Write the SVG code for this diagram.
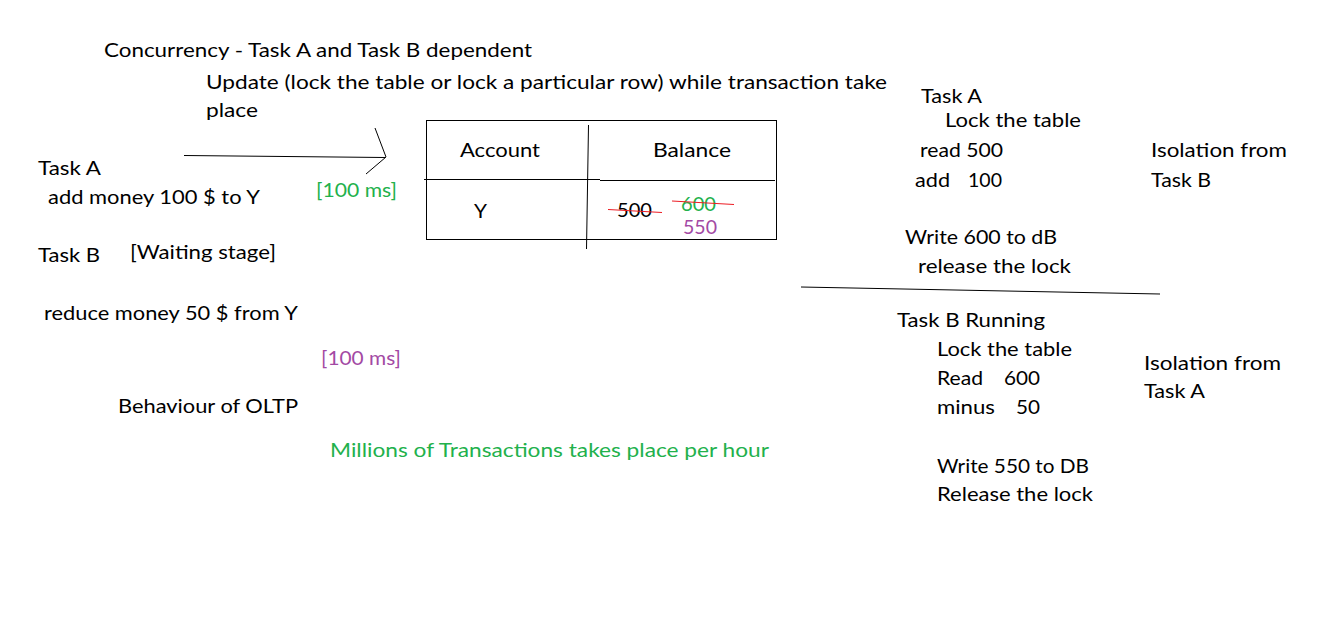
<svg xmlns="http://www.w3.org/2000/svg" width="1320" height="641" viewBox="0 0 1320 641">
<style>
text{font-family:Lato,"Open Sans","Liberation Sans",sans-serif;font-size:20px;fill:#000}
.g{fill:#22b14c}
.p{fill:#a349a4}
.ln{fill:none;stroke:#000;stroke-width:1}
.red{fill:none;stroke:#ed1c24;stroke-width:1}
</style>
<rect width="1320" height="641" fill="#fff"/>
<g id="title">
<text x="104" y="57" textLength="428" lengthAdjust="spacingAndGlyphs">Concurrency - Task A and Task B dependent</text>
<text x="206" y="89" textLength="681" lengthAdjust="spacingAndGlyphs">Update (lock the table or lock a particular row) while transaction take</text>
<text x="206" y="117" textLength="52" lengthAdjust="spacingAndGlyphs">place</text>
</g>
<g id="left-tasks">
<text x="38" y="175" textLength="63" lengthAdjust="spacingAndGlyphs">Task A</text>
<text x="48" y="204" textLength="212" lengthAdjust="spacingAndGlyphs">add money 100 $ to Y</text>
<text class="g" x="316" y="197" textLength="81" lengthAdjust="spacingAndGlyphs">[100 ms]</text>
<text x="38" y="262" textLength="62" lengthAdjust="spacingAndGlyphs">Task B</text>
<text x="130" y="259" textLength="146" lengthAdjust="spacingAndGlyphs">[Waiting stage]</text>
<text x="44" y="320" textLength="254" lengthAdjust="spacingAndGlyphs">reduce money 50 $ from Y</text>
<text class="p" x="321" y="365" textLength="80" lengthAdjust="spacingAndGlyphs">[100 ms]</text>
<text x="118" y="413" textLength="180" lengthAdjust="spacingAndGlyphs">Behaviour of OLTP</text>
<text class="g" x="330" y="457" textLength="439" lengthAdjust="spacingAndGlyphs">Millions of Transactions takes place per hour</text>
</g>
<g id="table">
<rect class="ln" x="426.5" y="120.5" width="350" height="118.5" shape-rendering="crispEdges"/>
<polyline class="ln" points="424,179.5 600,179.5" shape-rendering="crispEdges"/>
<polyline class="ln" points="600,180.5 775,180.5" shape-rendering="crispEdges"/>
<polyline class="ln" points="588.5,125 586.5,249"/>
<text x="460" y="157" textLength="80" lengthAdjust="spacingAndGlyphs">Account</text>
<text x="653" y="157" textLength="78" lengthAdjust="spacingAndGlyphs">Balance</text>
<text x="474" y="218" textLength="13" lengthAdjust="spacingAndGlyphs">Y</text>
<text x="617" y="217" textLength="35" lengthAdjust="spacingAndGlyphs">500</text>
<text class="g" x="681" y="211" textLength="35" lengthAdjust="spacingAndGlyphs">600</text>
<text class="p" x="683" y="234" textLength="34" lengthAdjust="spacingAndGlyphs">550</text>
<polyline class="red" points="608,209.5 662,212.5"/>
<polyline class="red" points="672,201 734,204.5"/>
</g>
<g id="task-a-steps">
<text x="921" y="103" textLength="61" lengthAdjust="spacingAndGlyphs">Task A</text>
<text x="945" y="127" textLength="136" lengthAdjust="spacingAndGlyphs">Lock the table</text>
<text x="920" y="157" textLength="83" lengthAdjust="spacingAndGlyphs">read 500</text>
<text x="915" y="187" textLength="35" lengthAdjust="spacingAndGlyphs">add</text>
<text x="968" y="187" textLength="34" lengthAdjust="spacingAndGlyphs">100</text>
<text x="905" y="244" textLength="152" lengthAdjust="spacingAndGlyphs">Write 600 to dB</text>
<text x="918" y="273" textLength="153" lengthAdjust="spacingAndGlyphs">release the lock</text>
<text x="1151" y="157" textLength="136" lengthAdjust="spacingAndGlyphs">Isolation from</text>
<text x="1151" y="187" textLength="60" lengthAdjust="spacingAndGlyphs">Task B</text>
</g>
<g id="separator">
<polyline class="ln" points="801,287 1160,294"/>
</g>
<g id="task-b-steps">
<text x="897" y="327" textLength="148" lengthAdjust="spacingAndGlyphs">Task B Running</text>
<text x="937" y="356" textLength="135" lengthAdjust="spacingAndGlyphs">Lock the table</text>
<text x="937" y="385" textLength="46" lengthAdjust="spacingAndGlyphs">Read</text>
<text x="1004" y="385" textLength="36" lengthAdjust="spacingAndGlyphs">600</text>
<text x="937" y="414" textLength="58" lengthAdjust="spacingAndGlyphs">minus</text>
<text x="1016" y="414" textLength="24" lengthAdjust="spacingAndGlyphs">50</text>
<text x="937" y="473" textLength="152" lengthAdjust="spacingAndGlyphs">Write 550 to DB</text>
<text x="937" y="501" textLength="156" lengthAdjust="spacingAndGlyphs">Release the lock</text>
<text x="1144" y="370" textLength="137" lengthAdjust="spacingAndGlyphs">Isolation from</text>
<text x="1144" y="398" textLength="61" lengthAdjust="spacingAndGlyphs">Task A</text>
</g>
<g id="connectors">
<polyline class="ln" points="184,155.5 385,157.5"/>
<polyline class="ln" points="375,128 386,157 366,174"/>
</g>
</svg>
